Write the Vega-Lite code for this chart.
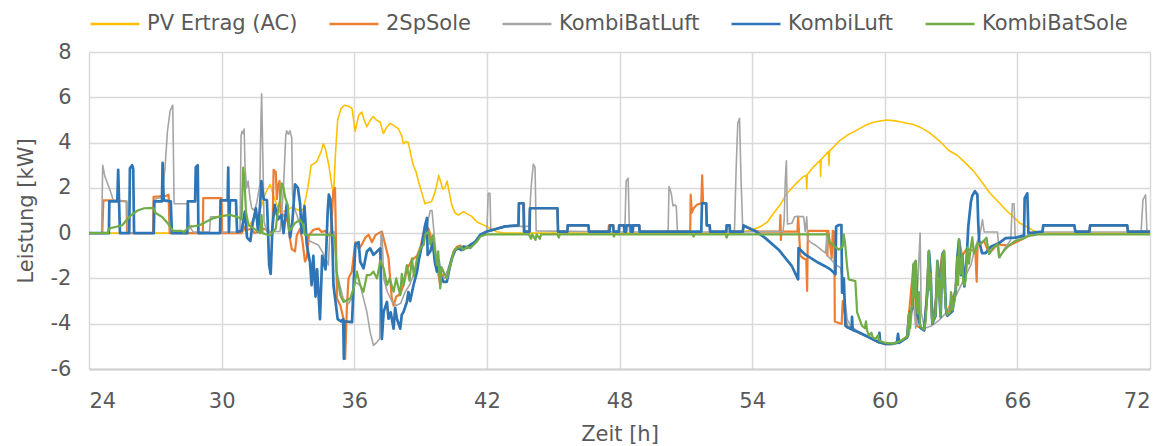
{
"$schema": "https://vega.github.io/schema/vega-lite/v6.json",
"width": 1061, "height": 317,
"autosize": {"type": "none"},
"padding": {"left": 89, "top": 52, "right": 22, "bottom": 77},
"config": {"font": "DejaVu Sans", "view": {"stroke": null}},
"datasets": {
"pv": [
{"t":24,"v":0},{"t":30.9,"v":0},{"t":31.1,"v":0.2},{"t":31.4,"v":0.55},{"t":31.7,"v":0.9},{"t":32.0,"v":1.8},{"t":32.2,"v":2.15},{"t":32.4,"v":1.5},{"t":32.65,"v":0.9},{"t":32.9,"v":1.0},{"t":33.2,"v":1.15},{"t":33.5,"v":1.0},{"t":33.7,"v":1.05},{"t":33.9,"v":2.0},{"t":34.05,"v":3.0},{"t":34.3,"v":3.15},{"t":34.5,"v":3.6},{"t":34.6,"v":3.95},{"t":34.7,"v":3.7},{"t":34.85,"v":3.0},{"t":35.0,"v":2.0},{"t":35.07,"v":1.8},{"t":35.15,"v":3.5},{"t":35.25,"v":5.0},{"t":35.4,"v":5.5},{"t":35.55,"v":5.65},{"t":35.75,"v":5.6},{"t":35.9,"v":5.5},{"t":36.04,"v":4.5},{"t":36.2,"v":5.2},{"t":36.34,"v":5.35},{"t":36.45,"v":5.0},{"t":36.57,"v":4.7},{"t":36.7,"v":4.95},{"t":36.86,"v":5.15},{"t":37.0,"v":5.0},{"t":37.17,"v":4.9},{"t":37.32,"v":4.4},{"t":37.45,"v":4.65},{"t":37.62,"v":4.85},{"t":37.8,"v":4.75},{"t":38.0,"v":4.6},{"t":38.15,"v":4.3},{"t":38.22,"v":3.95},{"t":38.35,"v":4.05},{"t":38.45,"v":4.0},{"t":38.55,"v":3.5},{"t":38.67,"v":3.0},{"t":38.8,"v":2.7},{"t":38.9,"v":2.3},{"t":39.05,"v":1.8},{"t":39.2,"v":1.3},{"t":39.35,"v":1.35},{"t":39.5,"v":1.4},{"t":39.65,"v":1.8},{"t":39.73,"v":2.1},{"t":39.82,"v":2.55},{"t":39.9,"v":2.3},{"t":40.0,"v":1.95},{"t":40.1,"v":2.0},{"t":40.2,"v":2.3},{"t":40.3,"v":1.8},{"t":40.41,"v":1.25},{"t":40.55,"v":0.9},{"t":40.7,"v":0.8},{"t":40.94,"v":0.95},{"t":41.1,"v":0.85},{"t":41.3,"v":0.75},{"t":41.54,"v":0.5},{"t":41.7,"v":0.43},{"t":42.0,"v":0.28},{"t":42.45,"v":0.06},{"t":42.8,"v":0},{"t":53.4,"v":0},{"t":53.6,"v":0.06},{"t":54.0,"v":0.15},{"t":54.36,"v":0.28},{"t":54.7,"v":0.5},{"t":54.96,"v":0.87},{"t":55.3,"v":1.3},{"t":55.57,"v":1.75},{"t":56.0,"v":2.2},{"t":56.32,"v":2.5},{"t":56.45,"v":2.55},{"t":56.47,"v":1.95},{"t":56.5,"v":2.6},{"t":56.8,"v":2.95},{"t":57.08,"v":3.22},{"t":57.1,"v":2.5},{"t":57.12,"v":3.25},{"t":57.45,"v":3.6},{"t":57.48,"v":3.0},{"t":57.5,"v":3.62},{"t":57.98,"v":4.1},{"t":58.35,"v":4.35},{"t":58.74,"v":4.55},{"t":59.1,"v":4.75},{"t":59.49,"v":4.9},{"t":59.8,"v":4.95},{"t":60.09,"v":5.0},{"t":60.4,"v":4.97},{"t":60.7,"v":4.92},{"t":61.0,"v":4.85},{"t":61.3,"v":4.8},{"t":61.6,"v":4.68},{"t":62.0,"v":4.45},{"t":62.5,"v":4.05},{"t":62.9,"v":3.65},{"t":63.26,"v":3.45},{"t":63.6,"v":3.15},{"t":64.01,"v":2.75},{"t":64.4,"v":2.25},{"t":64.77,"v":1.75},{"t":65.22,"v":1.3},{"t":65.5,"v":1.0},{"t":65.82,"v":0.72},{"t":66.1,"v":0.45},{"t":66.43,"v":0.28},{"t":66.7,"v":0.12},{"t":67.03,"v":0.02},{"t":67.5,"v":0},{"t":72,"v":0}
],
"sp": [
{"t":24,"v":0},{"t":24.6,"v":0},{"t":24.65,"v":1.45},{"t":25.1,"v":1.45},{"t":25.7,"v":1.4},{"t":25.72,"v":0},{"t":26.9,"v":0},{"t":26.92,"v":1.6},{"t":27.5,"v":1.65},{"t":27.6,"v":1.7},{"t":27.65,"v":0},{"t":29.15,"v":0},{"t":29.17,"v":1.55},{"t":30.0,"v":1.55},{"t":30.02,"v":0},{"t":30.9,"v":0},{"t":31.0,"v":0.3},{"t":31.1,"v":0.1},{"t":31.3,"v":0.2},{"t":31.5,"v":0},{"t":31.7,"v":0.1},{"t":31.9,"v":0.2},{"t":32.1,"v":0.1},{"t":32.3,"v":0},{"t":32.35,"v":2.8},{"t":32.45,"v":2.7},{"t":32.5,"v":1.5},{"t":32.55,"v":2.1},{"t":32.62,"v":2.3},{"t":32.68,"v":0.9},{"t":32.8,"v":0.8},{"t":33.0,"v":0.5},{"t":33.1,"v":-0.3},{"t":33.17,"v":-0.7},{"t":33.32,"v":-0.8},{"t":33.4,"v":-0.1},{"t":33.55,"v":0.2},{"t":33.65,"v":-0.3},{"t":33.77,"v":-1.25},{"t":33.85,"v":-1.1},{"t":33.95,"v":-0.1},{"t":34.15,"v":0.15},{"t":34.4,"v":0.2},{"t":34.52,"v":0.05},{"t":34.7,"v":0.1},{"t":34.85,"v":-0.1},{"t":34.95,"v":0.0},{"t":35.05,"v":1.85},{"t":35.13,"v":2.0},{"t":35.17,"v":-0.1},{"t":35.22,"v":-2.9},{"t":35.37,"v":-3.2},{"t":35.52,"v":-3.8},{"t":35.59,"v":-5.55},{"t":35.67,"v":-3.2},{"t":35.74,"v":-2.0},{"t":35.89,"v":-1.7},{"t":36.05,"v":-0.4},{"t":36.2,"v":-0.7},{"t":36.35,"v":-0.5},{"t":36.5,"v":-0.2},{"t":36.65,"v":-0.07},{"t":36.8,"v":-0.4},{"t":36.95,"v":-0.1},{"t":37.1,"v":0},{"t":37.25,"v":0.07},{"t":37.4,"v":-0.5},{"t":37.55,"v":-1.1},{"t":37.7,"v":-2.9},{"t":37.78,"v":-3.2},{"t":37.9,"v":-2.8},{"t":38.08,"v":-2.7},{"t":38.23,"v":-2.3},{"t":38.38,"v":-1.6},{"t":38.6,"v":-1.2},{"t":38.84,"v":-1.0},{"t":39.0,"v":-0.6},{"t":39.2,"v":0.3},{"t":39.36,"v":0.2},{"t":39.5,"v":-0.3},{"t":39.74,"v":-1.4},{"t":39.89,"v":-2.3},{"t":40.04,"v":-1.8},{"t":40.19,"v":-1.9},{"t":40.5,"v":-0.8},{"t":40.65,"v":-0.6},{"t":40.8,"v":-0.55},{"t":40.95,"v":-0.7},{"t":41.25,"v":-0.6},{"t":41.55,"v":-0.35},{"t":41.7,"v":-0.1},{"t":42.0,"v":0.07},{"t":42.83,"v":0.3},{"t":43.43,"v":0.34},{"t":43.45,"v":1.32},{"t":43.68,"v":1.32},{"t":43.7,"v":0.07},{"t":43.93,"v":0.07},{"t":43.95,"v":1.1},{"t":45.2,"v":1.1},{"t":45.22,"v":0.07},{"t":45.64,"v":0.07},{"t":45.65,"v":0.34},{"t":46.6,"v":0.34},{"t":46.62,"v":0.07},{"t":47.5,"v":0.07},{"t":47.52,"v":0.34},{"t":47.72,"v":0.34},{"t":47.74,"v":0.07},{"t":47.96,"v":0.07},{"t":47.98,"v":0.34},{"t":48.9,"v":0.34},{"t":48.92,"v":0.07},{"t":51.2,"v":0.07},{"t":51.22,"v":1.7},{"t":51.27,"v":0.9},{"t":51.35,"v":1.1},{"t":51.5,"v":1.25},{"t":51.7,"v":1.32},{"t":51.74,"v":2.55},{"t":51.78,"v":1.32},{"t":51.92,"v":1.3},{"t":51.95,"v":0.34},{"t":52.08,"v":0.34},{"t":52.1,"v":0.07},{"t":52.83,"v":0.07},{"t":52.85,"v":0.34},{"t":52.98,"v":0.34},{"t":53.0,"v":0.07},{"t":53.58,"v":0.07},{"t":53.6,"v":0.34},{"t":54.0,"v":0.15},{"t":54.3,"v":0.07},{"t":55.25,"v":0.07},{"t":55.28,"v":0.8},{"t":55.3,"v":-0.3},{"t":55.33,"v":0.07},{"t":56.05,"v":0.07},{"t":56.08,"v":0.73},{"t":56.12,"v":0.07},{"t":56.18,"v":-1.0},{"t":56.3,"v":-1.1},{"t":56.45,"v":-1.17},{"t":56.49,"v":-2.55},{"t":56.52,"v":0.1},{"t":57.38,"v":0.1},{"t":57.4,"v":-1.0},{"t":57.45,"v":0.1},{"t":57.6,"v":-1.1},{"t":57.65,"v":0.1},{"t":57.72,"v":0.05},{"t":57.74,"v":-3.9},{"t":58.0,"v":-4.0},{"t":58.05,"v":-4.0},{"t":58.1,"v":-3.0},{"t":58.3,"v":-4.1},{"t":58.82,"v":-4.4},{"t":59.28,"v":-4.6},{"t":59.73,"v":-4.82},{"t":60.03,"v":-4.9},{"t":60.33,"v":-4.9},{"t":60.8,"v":-4.72},{"t":61.0,"v":-4.56},{"t":61.3,"v":-1.4},{"t":61.45,"v":-4.1},{"t":61.8,"v":-4.26},{"t":62.0,"v":-0.8},{"t":62.15,"v":-4.0},{"t":62.6,"v":-0.95},{"t":62.8,"v":-3.6},{"t":63.2,"v":-2.5},{"t":63.36,"v":-0.3},{"t":63.5,"v":-1.0},{"t":63.7,"v":-0.7},{"t":64.1,"v":-0.8},{"t":64.16,"v":-2.15},{"t":64.2,"v":-0.5},{"t":64.5,"v":-0.35},{"t":64.72,"v":-0.9},{"t":65.1,"v":-0.5},{"t":65.62,"v":-0.55},{"t":66.23,"v":-0.26},{"t":66.6,"v":-0.05},{"t":67.14,"v":0.07},{"t":67.17,"v":0.34},{"t":68.58,"v":0.34},{"t":68.62,"v":0.07},{"t":69.26,"v":0.07},{"t":69.29,"v":0.34},{"t":70.97,"v":0.34},{"t":71.0,"v":0.07},{"t":72,"v":0.07}
],
"kbl": [
{"t":24,"v":0},{"t":24.57,"v":0},{"t":24.62,"v":3.0},{"t":24.72,"v":2.5},{"t":24.95,"v":1.9},{"t":25.1,"v":1.45},{"t":25.7,"v":1.4},{"t":25.75,"v":0},{"t":26.95,"v":0},{"t":26.98,"v":1.5},{"t":27.3,"v":1.6},{"t":27.44,"v":2.9},{"t":27.55,"v":4.5},{"t":27.67,"v":5.4},{"t":27.79,"v":5.65},{"t":27.85,"v":1.3},{"t":28.5,"v":1.3},{"t":28.55,"v":0.2},{"t":28.6,"v":0.25},{"t":28.7,"v":0.05},{"t":29.45,"v":0.05},{"t":29.5,"v":0.72},{"t":29.93,"v":0.72},{"t":29.97,"v":0.05},{"t":30.83,"v":0.05},{"t":30.88,"v":4.3},{"t":30.92,"v":4.5},{"t":30.98,"v":4.4},{"t":31.02,"v":4.6},{"t":31.06,"v":2.9},{"t":31.13,"v":2.0},{"t":31.2,"v":2.3},{"t":31.28,"v":1.56},{"t":31.36,"v":1.1},{"t":31.5,"v":1.0},{"t":31.6,"v":1.4},{"t":31.73,"v":2.15},{"t":31.78,"v":5.0},{"t":31.81,"v":6.15},{"t":31.86,"v":3.6},{"t":31.92,"v":0.5},{"t":32.04,"v":0.07},{"t":32.64,"v":0.07},{"t":32.7,"v":0.6},{"t":32.8,"v":2.0},{"t":32.9,"v":4.3},{"t":32.94,"v":4.52},{"t":33.02,"v":4.37},{"t":33.09,"v":4.52},{"t":33.17,"v":4.22},{"t":33.21,"v":1.7},{"t":33.3,"v":1.1},{"t":33.55,"v":0.37},{"t":33.7,"v":0.05},{"t":33.9,"v":-0.3},{"t":34.1,"v":-0.4},{"t":34.37,"v":-0.52},{"t":34.6,"v":-0.9},{"t":34.83,"v":-1.41},{"t":34.9,"v":0.05},{"t":35.1,"v":0.05},{"t":35.2,"v":-1.7},{"t":35.35,"v":-2.3},{"t":35.5,"v":-2.9},{"t":35.66,"v":-3.04},{"t":35.74,"v":-3.11},{"t":35.89,"v":-2.9},{"t":36.05,"v":-2.15},{"t":36.27,"v":-2.3},{"t":36.42,"v":-2.89},{"t":36.57,"v":-3.48},{"t":36.72,"v":-4.37},{"t":36.87,"v":-4.96},{"t":37.03,"v":-4.81},{"t":37.15,"v":-4.67},{"t":37.21,"v":0.07},{"t":37.27,"v":-0.3},{"t":37.33,"v":-2.0},{"t":37.5,"v":-2.6},{"t":37.7,"v":-3.0},{"t":37.9,"v":-3.2},{"t":38.1,"v":-3.1},{"t":38.3,"v":-2.6},{"t":38.5,"v":-2.3},{"t":38.7,"v":-1.8},{"t":38.9,"v":-1.2},{"t":39.1,"v":-0.4},{"t":39.3,"v":0.4},{"t":39.44,"v":1.0},{"t":39.52,"v":1.0},{"t":39.6,"v":0.1},{"t":39.74,"v":-1.3},{"t":39.9,"v":-1.9},{"t":40.1,"v":-2.0},{"t":40.3,"v":-1.4},{"t":40.5,"v":-0.8},{"t":40.8,"v":-0.65},{"t":41.2,"v":-0.55},{"t":41.5,"v":-0.35},{"t":41.8,"v":-0.05},{"t":42.0,"v":0.05},{"t":42.06,"v":1.76},{"t":42.14,"v":1.76},{"t":42.18,"v":0.1},{"t":42.8,"v":0.3},{"t":43.9,"v":0.3},{"t":44.0,"v":2.0},{"t":44.1,"v":3.05},{"t":44.18,"v":2.9},{"t":44.23,"v":0.1},{"t":48.24,"v":0.05},{"t":48.3,"v":2.3},{"t":48.39,"v":2.43},{"t":48.45,"v":0.05},{"t":50.2,"v":0.05},{"t":50.24,"v":2.06},{"t":50.3,"v":1.9},{"t":50.35,"v":1.7},{"t":50.42,"v":1.2},{"t":50.5,"v":1.25},{"t":50.57,"v":1.18},{"t":50.62,"v":0.05},{"t":53.2,"v":0.05},{"t":53.28,"v":2.94},{"t":53.35,"v":4.85},{"t":53.43,"v":5.07},{"t":53.5,"v":2.35},{"t":53.58,"v":0.05},{"t":54.3,"v":0.07},{"t":55.4,"v":0.07},{"t":55.45,"v":0.6},{"t":55.5,"v":2.34},{"t":55.55,"v":3.2},{"t":55.6,"v":0.4},{"t":55.8,"v":0.44},{"t":55.93,"v":0.73},{"t":56.33,"v":0.73},{"t":56.4,"v":0.07},{"t":56.47,"v":0.72},{"t":56.52,"v":-0.3},{"t":56.71,"v":-0.44},{"t":56.94,"v":-0.58},{"t":57.32,"v":-0.88},{"t":57.39,"v":0},{"t":57.42,"v":-1.0},{"t":57.77,"v":-1.39},{"t":58.0,"v":-1.53},{"t":58.15,"v":-2.5},{"t":58.3,"v":-3.8},{"t":58.45,"v":-4.09},{"t":58.8,"v":-4.35},{"t":59.3,"v":-4.6},{"t":59.7,"v":-4.8},{"t":60.0,"v":-4.88},{"t":60.4,"v":-4.88},{"t":60.8,"v":-4.75},{"t":61.1,"v":-4.5},{"t":61.3,"v":-3.0},{"t":61.4,"v":-4.2},{"t":61.6,"v":0.0},{"t":61.65,"v":-3.5},{"t":61.8,"v":-4.2},{"t":62.1,"v":-4.1},{"t":62.4,"v":-3.9},{"t":62.8,"v":-3.5},{"t":63.2,"v":-2.8},{"t":63.6,"v":-2.0},{"t":63.9,"v":-1.4},{"t":64.1,"v":-0.6},{"t":64.3,"v":-0.1},{"t":64.42,"v":0.6},{"t":64.5,"v":0.05},{"t":65.1,"v":0.05},{"t":65.2,"v":-1.1},{"t":65.4,"v":-0.7},{"t":65.7,"v":-0.3},{"t":65.77,"v":1.3},{"t":65.85,"v":1.3},{"t":65.9,"v":-0.2},{"t":66.2,"v":-0.2},{"t":66.6,"v":-0.05},{"t":67.1,"v":0.05},{"t":71.6,"v":0.05},{"t":71.68,"v":1.47},{"t":71.8,"v":1.69},{"t":71.86,"v":0.05},{"t":72,"v":0.05}
],
"kl": [
{"t":24,"v":0},{"t":24.9,"v":0},{"t":24.92,"v":1.4},{"t":25.28,"v":1.4},{"t":25.32,"v":2.8},{"t":25.36,"v":1.4},{"t":25.4,"v":0},{"t":25.82,"v":0},{"t":25.85,"v":2.85},{"t":25.95,"v":3.0},{"t":26.0,"v":2.85},{"t":26.04,"v":0},{"t":26.93,"v":0},{"t":26.95,"v":1.4},{"t":27.3,"v":1.4},{"t":27.33,"v":3.1},{"t":27.38,"v":1.45},{"t":27.7,"v":1.4},{"t":27.75,"v":0},{"t":28.45,"v":0},{"t":28.47,"v":1.4},{"t":28.8,"v":1.4},{"t":28.83,"v":2.9},{"t":28.92,"v":3.0},{"t":28.95,"v":0},{"t":29.93,"v":0},{"t":29.95,"v":1.45},{"t":30.27,"v":1.45},{"t":30.3,"v":2.9},{"t":30.33,"v":0.05},{"t":30.38,"v":1.45},{"t":30.65,"v":1.45},{"t":30.7,"v":0.05},{"t":30.9,"v":0.1},{"t":31.05,"v":0.95},{"t":31.15,"v":-0.2},{"t":31.3,"v":-0.35},{"t":31.4,"v":0.4},{"t":31.55,"v":1.1},{"t":31.65,"v":0.05},{"t":31.75,"v":1.4},{"t":31.8,"v":2.3},{"t":31.9,"v":1.5},{"t":32.05,"v":1.45},{"t":32.15,"v":-1.4},{"t":32.22,"v":-1.8},{"t":32.3,"v":0.3},{"t":32.4,"v":1.25},{"t":32.55,"v":0.6},{"t":32.7,"v":0.8},{"t":32.8,"v":0.0},{"t":32.95,"v":1.3},{"t":33.1,"v":-0.2},{"t":33.2,"v":0.5},{"t":33.32,"v":2.15},{"t":33.45,"v":2.0},{"t":33.55,"v":1.3},{"t":33.62,"v":0.0},{"t":33.75,"v":1.2},{"t":33.85,"v":-0.5},{"t":34.0,"v":-1.3},{"t":34.07,"v":-2.3},{"t":34.15,"v":-1.0},{"t":34.25,"v":-2.8},{"t":34.32,"v":-1.6},{"t":34.45,"v":-3.8},{"t":34.55,"v":-1.0},{"t":34.7,"v":-1.6},{"t":34.8,"v":1.0},{"t":34.85,"v":1.7},{"t":34.92,"v":1.5},{"t":35.0,"v":0.0},{"t":35.06,"v":-2.3},{"t":35.15,"v":-3.0},{"t":35.25,"v":-3.8},{"t":35.4,"v":-3.9},{"t":35.5,"v":-3.8},{"t":35.53,"v":-5.55},{"t":35.56,"v":-3.9},{"t":35.9,"v":-3.93},{"t":35.97,"v":-2.3},{"t":36.05,"v":-0.5},{"t":36.2,"v":-0.4},{"t":36.27,"v":-1.26},{"t":36.42,"v":-1.56},{"t":36.57,"v":-0.81},{"t":36.72,"v":-0.67},{"t":36.87,"v":-0.96},{"t":37.03,"v":-0.81},{"t":37.18,"v":-0.67},{"t":37.22,"v":-2.89},{"t":37.25,"v":-4.67},{"t":37.33,"v":-3.48},{"t":37.48,"v":-3.04},{"t":37.55,"v":-3.78},{"t":37.65,"v":-3.5},{"t":37.78,"v":-4.22},{"t":37.85,"v":-3.3},{"t":37.93,"v":-3.78},{"t":38.08,"v":-4.22},{"t":38.15,"v":-3.6},{"t":38.23,"v":-3.48},{"t":38.38,"v":-3.04},{"t":38.45,"v":-2.6},{"t":38.53,"v":-3.0},{"t":38.68,"v":-2.3},{"t":38.84,"v":-1.7},{"t":38.92,"v":-1.2},{"t":39.06,"v":-0.52},{"t":39.21,"v":0.37},{"t":39.29,"v":0.67},{"t":39.32,"v":-0.96},{"t":39.44,"v":-0.81},{"t":39.55,"v":-0.4},{"t":39.65,"v":-1.3},{"t":39.74,"v":-1.7},{"t":39.82,"v":-1.2},{"t":39.89,"v":-1.85},{"t":40.04,"v":-2.15},{"t":40.19,"v":-2.15},{"t":40.3,"v":-1.6},{"t":40.42,"v":-1.11},{"t":40.57,"v":-0.74},{"t":40.72,"v":-0.67},{"t":40.85,"v":-0.75},{"t":40.95,"v":-0.59},{"t":41.1,"v":-0.65},{"t":41.25,"v":-0.52},{"t":41.48,"v":-0.37},{"t":41.7,"v":-0.07},{"t":42.0,"v":0.07},{"t":42.83,"v":0.3},{"t":43.43,"v":0.34},{"t":43.45,"v":1.32},{"t":43.65,"v":1.32},{"t":43.68,"v":0.07},{"t":43.93,"v":0.07},{"t":43.95,"v":1.1},{"t":45.19,"v":1.1},{"t":45.22,"v":0.07},{"t":45.64,"v":0.07},{"t":45.66,"v":0.34},{"t":46.59,"v":0.34},{"t":46.62,"v":0.07},{"t":47.55,"v":0.07},{"t":47.57,"v":0.34},{"t":47.71,"v":0.34},{"t":47.73,"v":0.07},{"t":47.97,"v":0.07},{"t":47.99,"v":0.34},{"t":48.2,"v":0.34},{"t":48.22,"v":0.07},{"t":48.3,"v":0.07},{"t":48.32,"v":0.34},{"t":48.5,"v":0.34},{"t":48.52,"v":0.07},{"t":48.6,"v":0.07},{"t":48.62,"v":0.34},{"t":48.89,"v":0.34},{"t":48.91,"v":0.07},{"t":51.7,"v":0.07},{"t":51.73,"v":1.32},{"t":51.92,"v":1.32},{"t":51.95,"v":0.34},{"t":52.08,"v":0.34},{"t":52.1,"v":0.07},{"t":52.83,"v":0.07},{"t":52.85,"v":0.34},{"t":52.98,"v":0.34},{"t":53.0,"v":0.07},{"t":53.58,"v":0.07},{"t":53.61,"v":0.34},{"t":54.18,"v":0.07},{"t":54.6,"v":-0.22},{"t":55.2,"v":-0.73},{"t":55.8,"v":-1.46},{"t":56.08,"v":-2.04},{"t":56.1,"v":-0.66},{"t":56.41,"v":-0.95},{"t":57.0,"v":-1.31},{"t":57.3,"v":-1.46},{"t":57.54,"v":-1.6},{"t":57.77,"v":-1.82},{"t":57.8,"v":0.29},{"t":57.92,"v":0.36},{"t":58.04,"v":0.36},{"t":58.07,"v":-2.63},{"t":58.15,"v":-2.0},{"t":58.22,"v":-4.09},{"t":58.3,"v":-4.16},{"t":58.5,"v":-4.25},{"t":58.52,"v":-3.7},{"t":58.55,"v":-4.28},{"t":58.82,"v":-4.38},{"t":59.28,"v":-4.6},{"t":59.73,"v":-4.82},{"t":59.76,"v":-4.4},{"t":59.79,"v":-4.83},{"t":60.03,"v":-4.89},{"t":60.33,"v":-4.89},{"t":60.55,"v":-4.85},{"t":60.6,"v":-4.45},{"t":60.65,"v":-4.85},{"t":61.02,"v":-4.6},{"t":61.1,"v":-3.6},{"t":61.25,"v":-3.3},{"t":61.32,"v":-1.4},{"t":61.4,"v":-1.25},{"t":61.48,"v":-3.6},{"t":61.63,"v":-4.2},{"t":61.78,"v":-4.3},{"t":61.93,"v":-2.6},{"t":62.0,"v":-0.8},{"t":62.08,"v":-1.85},{"t":62.15,"v":-4.0},{"t":62.3,"v":-3.65},{"t":62.38,"v":-1.25},{"t":62.53,"v":-3.7},{"t":62.6,"v":-0.95},{"t":62.68,"v":-0.8},{"t":62.76,"v":-3.3},{"t":62.83,"v":-3.65},{"t":63.06,"v":-3.45},{"t":63.21,"v":-2.55},{"t":63.28,"v":-1.1},{"t":63.36,"v":-0.3},{"t":63.44,"v":-1.85},{"t":63.51,"v":-0.95},{"t":63.6,"v":-2.35},{"t":63.7,"v":-1.2},{"t":63.78,"v":0.3},{"t":63.9,"v":1.4},{"t":63.96,"v":1.65},{"t":64.08,"v":1.85},{"t":64.19,"v":1.7},{"t":64.23,"v":0.44},{"t":64.27,"v":-0.33},{"t":64.4,"v":-0.88},{"t":64.56,"v":-0.88},{"t":64.8,"v":-0.6},{"t":65.17,"v":-0.44},{"t":65.47,"v":-0.22},{"t":65.92,"v":-0.2},{"t":66.3,"v":-0.1},{"t":66.33,"v":1.55},{"t":66.45,"v":1.76},{"t":66.5,"v":0.0},{"t":67.14,"v":0.07},{"t":67.17,"v":0.34},{"t":68.58,"v":0.34},{"t":68.62,"v":0.07},{"t":69.26,"v":0.07},{"t":69.29,"v":0.34},{"t":70.97,"v":0.34},{"t":71.0,"v":0.07},{"t":72,"v":0.07}
],
"kbs": [
{"t":24,"v":0},{"t":24.85,"v":0},{"t":24.9,"v":0.2},{"t":25.5,"v":0.35},{"t":25.85,"v":0.75},{"t":26.2,"v":1.0},{"t":26.5,"v":1.1},{"t":26.9,"v":1.12},{"t":27.0,"v":0.9},{"t":27.3,"v":0.72},{"t":27.55,"v":0.45},{"t":27.8,"v":0.1},{"t":28.2,"v":0.1},{"t":28.3,"v":0.05},{"t":28.55,"v":0.3},{"t":28.7,"v":0.3},{"t":29.0,"v":0.35},{"t":29.3,"v":0.5},{"t":29.6,"v":0.65},{"t":29.92,"v":0.74},{"t":30.38,"v":0.81},{"t":30.6,"v":0.74},{"t":30.83,"v":0.67},{"t":30.9,"v":0.6},{"t":30.98,"v":2.89},{"t":31.03,"v":2.4},{"t":31.1,"v":0.96},{"t":31.21,"v":0.37},{"t":31.43,"v":0.22},{"t":31.6,"v":0.1},{"t":31.75,"v":0.0},{"t":31.81,"v":0.8},{"t":31.85,"v":0.0},{"t":32.0,"v":-0.05},{"t":32.2,"v":-0.1},{"t":32.45,"v":0.2},{"t":32.55,"v":1.0},{"t":32.65,"v":1.5},{"t":32.72,"v":2.2},{"t":32.8,"v":2.0},{"t":32.87,"v":1.6},{"t":33.0,"v":1.2},{"t":33.05,"v":0.1},{"t":33.15,"v":0.2},{"t":33.32,"v":0.44},{"t":33.55,"v":0.59},{"t":33.68,"v":0.4},{"t":33.77,"v":-0.07},{"t":34.75,"v":-0.07},{"t":35.05,"v":-0.1},{"t":35.13,"v":-0.3},{"t":35.2,"v":-1.7},{"t":35.37,"v":-2.74},{"t":35.52,"v":-3.04},{"t":35.82,"v":-2.89},{"t":35.97,"v":-2.44},{"t":36.12,"v":-1.7},{"t":36.27,"v":-2.3},{"t":36.42,"v":-2.59},{"t":36.57,"v":-1.85},{"t":36.72,"v":-1.85},{"t":36.87,"v":-1.7},{"t":37.03,"v":-2.0},{"t":37.18,"v":-1.2},{"t":37.33,"v":-1.56},{"t":37.48,"v":-2.3},{"t":37.6,"v":-2.0},{"t":37.78,"v":-2.59},{"t":37.9,"v":-2.0},{"t":38.08,"v":-2.74},{"t":38.15,"v":-1.8},{"t":38.23,"v":-2.3},{"t":38.38,"v":-1.41},{"t":38.5,"v":-2.1},{"t":38.61,"v":-1.11},{"t":38.7,"v":-1.9},{"t":38.84,"v":-1.11},{"t":38.99,"v":-0.67},{"t":39.14,"v":-0.52},{"t":39.21,"v":-0.07},{"t":39.36,"v":0.07},{"t":39.44,"v":-0.5},{"t":39.55,"v":-0.1},{"t":39.74,"v":-1.41},{"t":39.8,"v":-0.8},{"t":39.89,"v":-2.44},{"t":39.95,"v":-1.5},{"t":40.04,"v":-1.7},{"t":40.19,"v":-2.0},{"t":40.3,"v":-1.6},{"t":40.5,"v":-0.81},{"t":40.65,"v":-0.67},{"t":40.8,"v":-0.6},{"t":40.95,"v":-0.74},{"t":41.1,"v":-0.6},{"t":41.25,"v":-0.67},{"t":41.55,"v":-0.37},{"t":41.7,"v":-0.15},{"t":42.0,"v":-0.05},{"t":43.9,"v":-0.05},{"t":44.0,"v":-0.25},{"t":44.05,"v":-0.05},{"t":44.2,"v":-0.3},{"t":44.25,"v":-0.05},{"t":44.4,"v":-0.25},{"t":44.45,"v":-0.05},{"t":45.2,"v":-0.05},{"t":45.25,"v":-0.2},{"t":45.3,"v":-0.05},{"t":47.7,"v":-0.05},{"t":47.75,"v":-0.15},{"t":47.8,"v":-0.05},{"t":51.3,"v":-0.05},{"t":51.35,"v":-0.15},{"t":51.4,"v":-0.05},{"t":52.8,"v":-0.05},{"t":52.85,"v":-0.2},{"t":52.9,"v":-0.05},{"t":57.45,"v":-0.05},{"t":57.5,"v":-0.4},{"t":57.92,"v":-0.73},{"t":58.1,"v":-0.6},{"t":58.14,"v":-0.05},{"t":58.2,"v":-0.4},{"t":58.3,"v":-1.5},{"t":58.37,"v":-2.04},{"t":58.67,"v":-2.12},{"t":58.75,"v":-3.5},{"t":58.97,"v":-4.09},{"t":59.1,"v":-4.2},{"t":59.15,"v":-3.9},{"t":59.2,"v":-4.3},{"t":59.28,"v":-4.53},{"t":59.4,"v":-4.4},{"t":59.45,"v":-4.6},{"t":59.58,"v":-4.67},{"t":59.7,"v":-4.5},{"t":59.75,"v":-4.75},{"t":60.03,"v":-4.85},{"t":60.4,"v":-4.88},{"t":60.8,"v":-4.72},{"t":61.02,"v":-4.56},{"t":61.1,"v":-3.54},{"t":61.15,"v":-4.2},{"t":61.2,"v":-3.3},{"t":61.25,"v":-3.25},{"t":61.3,"v":-1.35},{"t":61.34,"v":-2.8},{"t":61.37,"v":-1.3},{"t":61.4,"v":-1.21},{"t":61.45,"v":-3.0},{"t":61.48,"v":-3.54},{"t":61.55,"v":-2.6},{"t":61.6,"v":-4.1},{"t":61.7,"v":-4.2},{"t":61.78,"v":-4.26},{"t":61.85,"v":-3.9},{"t":61.93,"v":-2.52},{"t":61.97,"v":-1.0},{"t":62.0,"v":-0.77},{"t":62.04,"v":-2.5},{"t":62.08,"v":-1.8},{"t":62.12,"v":-3.5},{"t":62.15,"v":-3.97},{"t":62.3,"v":-3.6},{"t":62.34,"v":-2.2},{"t":62.38,"v":-1.21},{"t":62.42,"v":-2.8},{"t":62.45,"v":-2.0},{"t":62.53,"v":-3.68},{"t":62.57,"v":-2.0},{"t":62.6,"v":-0.92},{"t":62.64,"v":-2.4},{"t":62.68,"v":-0.77},{"t":62.72,"v":-2.6},{"t":62.76,"v":-3.25},{"t":62.83,"v":-3.6},{"t":62.95,"v":-3.5},{"t":63.0,"v":-2.6},{"t":63.06,"v":-3.4},{"t":63.15,"v":-3.0},{"t":63.21,"v":-2.52},{"t":63.25,"v":-1.6},{"t":63.28,"v":-1.06},{"t":63.32,"v":-2.3},{"t":63.36,"v":-0.26},{"t":63.4,"v":-1.5},{"t":63.44,"v":-1.8},{"t":63.51,"v":-0.92},{"t":63.55,"v":-2.2},{"t":63.6,"v":-2.3},{"t":63.66,"v":-2.1},{"t":63.74,"v":-0.63},{"t":63.81,"v":-1.35},{"t":63.88,"v":-0.7},{"t":63.96,"v":-0.19},{"t":64.03,"v":-0.9},{"t":64.11,"v":-0.77},{"t":64.2,"v":-0.45},{"t":64.34,"v":-0.48},{"t":64.49,"v":-0.33},{"t":64.6,"v":-0.2},{"t":64.72,"v":-0.92},{"t":64.85,"v":-0.7},{"t":65.1,"v":-0.48},{"t":65.17,"v":-1.06},{"t":65.4,"v":-0.77},{"t":65.62,"v":-0.55},{"t":65.92,"v":-0.33},{"t":66.23,"v":-0.26},{"t":66.53,"v":-0.12},{"t":67.0,"v":-0.05},{"t":72,"v":-0.05}
]
},
"encoding": {
"x": {"field": "t", "type": "quantitative", "scale": {"domain": [24, 72], "nice": false, "zero": false},
 "axis": {"values": [24,30,36,42,48,54,60,66,72], "title": "Zeit [h]", "grid": true, "gridColor": "#D9D9D9", "gridWidth": 1.5, "ticks": false, "tickSize": 0, "domainColor": "#D0D0D0", "domainWidth": 2, "labelFontSize": 21, "labelColor": "#595959", "labelPadding": 21, "titleFontSize": 21, "titleFontWeight": "normal", "titleColor": "#595959", "titlePadding": 12}},
"y": {"field": "v", "type": "quantitative", "scale": {"domain": [-6, 8], "nice": false},
 "axis": {"values": [-6,-4,-2,0,2,4,6,8], "labelExpr": "toString(datum.value)", "title": "Leistung [kW]", "grid": true, "gridColor": "#D9D9D9", "gridWidth": 1.5, "domain": false, "ticks": false, "tickSize": 0, "labelFontSize": 21, "labelColor": "#595959", "labelPadding": 18, "titleFontSize": 21, "titleFontWeight": "normal", "titleColor": "#595959", "titlePadding": 14}}
},
"layer": [
{"data": {"name": "pv"}, "mark": {"type": "line", "strokeWidth": 1.6, "strokeJoin": "round"},
 "encoding": {"color": {"datum": "PV Ertrag (AC)", "type": "nominal",
  "scale": {"domain": ["PV Ertrag (AC)", "2SpSole", "KombiBatLuft", "KombiLuft", "KombiBatSole"], "range": ["#FFC000", "#ED7D31", "#A5A5A5", "#2E75B6", "#70AD47"]},
  "legend": {"title": null, "orient": "none", "direction": "horizontal", "columns": 5, "legendX": 0, "legendY": -54, "symbolType": "stroke", "symbolSize": 2400, "symbolStrokeWidth": 2.5, "labelFontSize": 21, "labelColor": "#595959", "labelOffset": 6, "columnPadding": 26}}}},
{"data": {"name": "sp"}, "mark": {"type": "line", "strokeWidth": 2.2, "strokeJoin": "round"},
 "encoding": {"color": {"datum": "2SpSole", "type": "nominal"}}},
{"data": {"name": "kbl"}, "mark": {"type": "line", "strokeWidth": 1.6, "strokeJoin": "round"},
 "encoding": {"color": {"datum": "KombiBatLuft", "type": "nominal"}}},
{"data": {"name": "kl"}, "mark": {"type": "line", "strokeWidth": 2.7, "strokeJoin": "round"},
 "encoding": {"color": {"datum": "KombiLuft", "type": "nominal"}}},
{"data": {"name": "kbs"}, "mark": {"type": "line", "strokeWidth": 2.2, "strokeJoin": "round"},
 "encoding": {"color": {"datum": "KombiBatSole", "type": "nominal"}}}
]
}
